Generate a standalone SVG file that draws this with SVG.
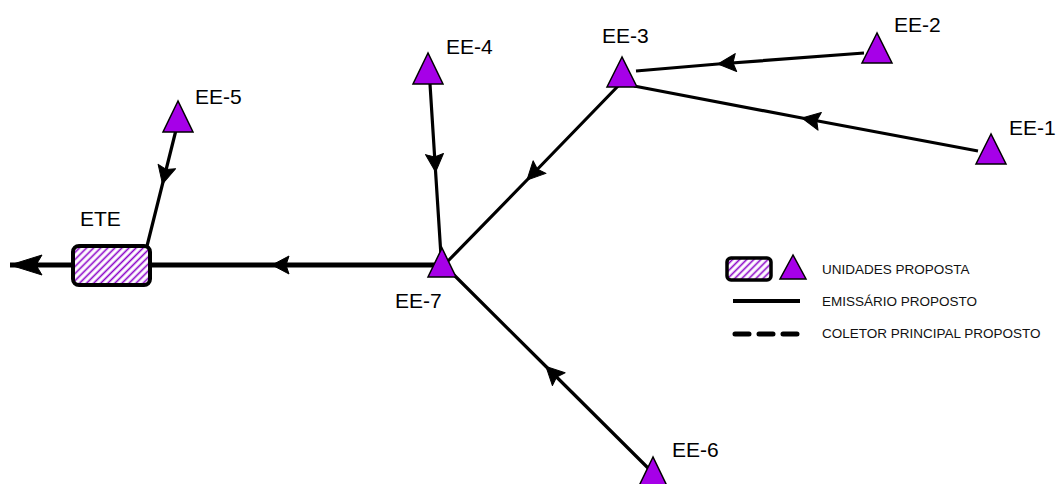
<svg xmlns="http://www.w3.org/2000/svg" width="1056" height="484" viewBox="0 0 1056 484">
<style>
  .lbl{font-family:"Liberation Sans",Arial,sans-serif;font-size:21px;fill:#000}
  .leg{font-family:"Liberation Sans",Arial,sans-serif;font-size:13.5px;fill:#111}
  .tri{fill:#A600E8;stroke:#000;stroke-width:1.5;stroke-linejoin:miter}
  .con{fill:none;stroke:#000;stroke-width:3.2;marker-mid:url(#arr)}
  .main{fill:none;stroke:#000;stroke-width:5;marker-mid:url(#arrM)}
</style>
<defs>
  <marker id="arr" markerUnits="userSpaceOnUse" orient="auto" viewBox="-22 -12 24 24" refX="0" refY="0" markerWidth="24" markerHeight="24" overflow="visible">
    <path d="M0,0 L-18,-9 L-15,0 L-18,9 Z" fill="#000" stroke="#000" stroke-width="1" stroke-linejoin="round"/>
  </marker>
  <marker id="arrM" markerUnits="userSpaceOnUse" orient="auto" viewBox="-22 -12 24 24" refX="0" refY="0" markerWidth="24" markerHeight="24" overflow="visible">
    <path d="M0,0 L-17,-9 L-14,0 L-17,9 Z" fill="#000" stroke="#000" stroke-width="1" stroke-linejoin="round"/>
  </marker>
  <marker id="arrEnd" markerUnits="userSpaceOnUse" orient="auto" viewBox="-36 -12 38 24" refX="0" refY="0" markerWidth="38" markerHeight="24" overflow="visible">
    <path d="M0,0 L-32,-10 L-26,0 L-32,10 Z" fill="#000" stroke="#000" stroke-width="1" stroke-linejoin="round"/>
  </marker>
  <pattern id="hatch" patternUnits="userSpaceOnUse" width="5" height="5" patternTransform="rotate(45)">
    <rect width="5" height="5" fill="#fff"/>
    <line x1="1.5" y1="0" x2="1.5" y2="5" stroke="#8A00C8" stroke-width="1.6"/>
  </pattern>
</defs>
<rect width="1056" height="484" fill="#fff"/>

<g id="connectors">
  <polyline class="con" points="864,53 718,64 636,71"/>
  <polyline class="con" points="978,151 802,118 634,86"/>
  <polyline class="con" points="620,84 527,180 448,261"/>
  <polyline class="con" points="430,84 435.6,172 441,256"/>
  <polyline class="con" points="648,468 546,366.5 451,272"/>
  <polyline class="con" points="177,126 162.5,184 147,246"/>
  <polyline class="main" points="441,265 272,265 151,265"/>
  <line x1="73" y1="265" x2="10" y2="265" stroke="#000" stroke-width="5" marker-end="url(#arrEnd)"/>
</g>

<g id="ETE">
  <rect x="73" y="246" width="77" height="39" rx="6" fill="url(#hatch)" stroke="#000" stroke-width="4"/>
  <text class="lbl" x="80" y="226">ETE</text>
</g>
<g id="EE-5">
  <polygon class="tri" points="178,101 163,132 193,132"/>
  <text class="lbl" x="195" y="104">EE-5</text>
</g>
<g id="EE-4">
  <polygon class="tri" points="428,53 413,84 443,84"/>
  <text class="lbl" x="446" y="54">EE-4</text>
</g>
<g id="EE-3">
  <polygon class="tri" points="622,57 607,87 637,87"/>
  <text class="lbl" x="602" y="43">EE-3</text>
</g>
<g id="EE-2">
  <polygon class="tri" points="877,33 862,63 892,63"/>
  <text class="lbl" x="894" y="32">EE-2</text>
</g>
<g id="EE-1">
  <polygon class="tri" points="991,134 976,164 1006,164"/>
  <text class="lbl" x="1009" y="135">EE-1</text>
</g>
<g id="EE-7">
  <polygon class="tri" points="442,248 428,277 456,277"/>
  <text class="lbl" x="395" y="308">EE-7</text>
</g>
<g id="EE-6">
  <polygon class="tri" points="653,457 638,488 668,488"/>
  <text class="lbl" x="672" y="457">EE-6</text>
</g>

<g id="legend">
  <rect x="727" y="258" width="44" height="22" rx="4" fill="url(#hatch)" stroke="#000" stroke-width="3.5"/>
  <polygon class="tri" points="793,255 780,279 806,279"/>
  <text class="leg" x="822" y="274">UNIDADES PROPOSTA</text>
  <line x1="733" y1="301" x2="800" y2="301" stroke="#000" stroke-width="4"/>
  <text class="leg" x="822" y="306">EMISSÁRIO PROPOSTO</text>
  <line x1="735" y1="334" x2="800" y2="334" stroke="#000" stroke-width="5" stroke-linecap="round" stroke-dasharray="14 10"/>
  <text class="leg" x="822" y="338">COLETOR PRINCIPAL PROPOSTO</text>
</g>
</svg>
